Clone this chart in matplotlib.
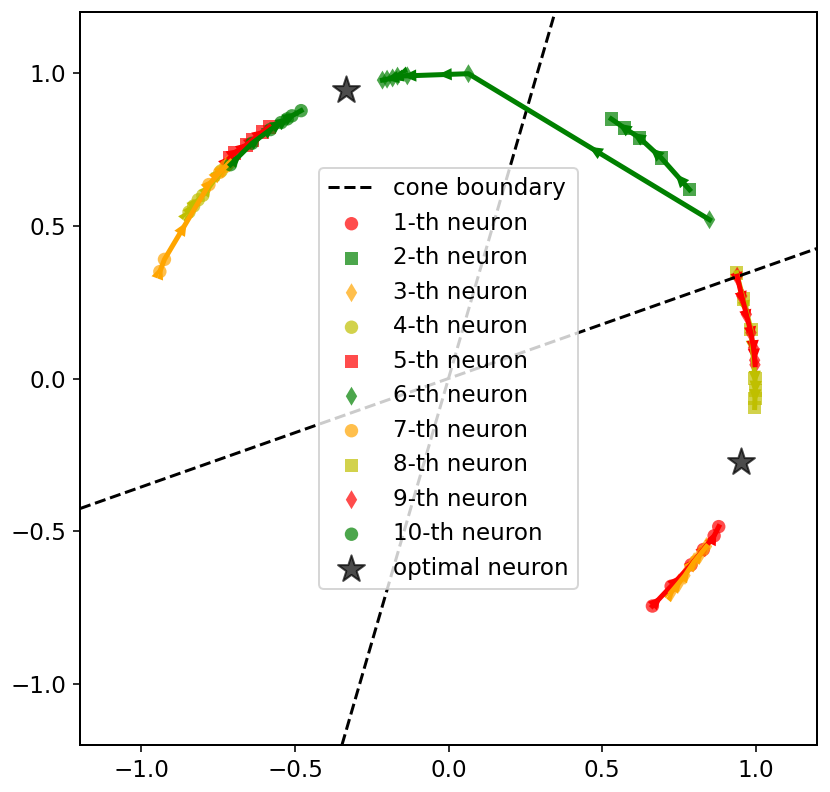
import numpy as np
import matplotlib.pyplot as plt

# trajectories of the 10 neurons (start -> end)
n1_x = [0.664, 0.725, 0.79, 0.83, 0.865, 0.88]
n1_y = [-0.745, -0.68, -0.61, -0.56, -0.515, -0.485]
n2_x = [0.785, 0.693, 0.622, 0.573, 0.53]
n2_y = [0.618, 0.722, 0.788, 0.82, 0.85]
n3_x = [0.725, 0.75, 0.77, 0.80, 0.82, 0.84]
n3_y = [-0.70, -0.67, -0.645, -0.60, -0.575, -0.55]
n4_x = [-0.845, -0.83, -0.815, -0.80, -0.74, -0.72]
n4_y = [0.545, 0.565, 0.585, 0.60, 0.68, 0.70]
n5_x = [-0.713, -0.697, -0.658, -0.638, -0.606, -0.583]
n5_y = [0.722, 0.739, 0.765, 0.781, 0.807, 0.824]
n6_x = [0.85, 0.065, -0.134, -0.166, -0.182, -0.2, -0.215]
n6_y = [0.52, 0.998, 0.991, 0.99, 0.984, 0.98, 0.977]
n7_x = [-0.94, -0.925, -0.78, -0.745, -0.725, -0.71]
n7_y = [0.35, 0.39, 0.635, 0.675, 0.695, 0.71]
n8_x = [0.938, 0.96, 0.985, 0.998, 0.999, 0.998, 0.997]
n8_y = [0.346, 0.26, 0.16, 0.0, -0.04, -0.065, -0.095]
n9_x = [0.94, 0.955, 0.97, 0.985, 0.993, 0.997, 0.998]
n9_y = [0.335, 0.27, 0.21, 0.15, 0.10, 0.06, 0.045]
n10_x = [-0.71, -0.64, -0.58, -0.545, -0.525, -0.51, -0.48]
n10_y = [0.70, 0.77, 0.815, 0.838, 0.85, 0.86, 0.877]

opt_x = [-0.335, 0.951]
opt_y = [0.944, -0.275]

xs = [n1_x, n2_x, n3_x, n4_x, n5_x, n6_x, n7_x, n8_x, n9_x, n10_x]
ys = [n1_y, n2_y, n3_y, n4_y, n5_y, n6_y, n7_y, n8_y, n9_y, n10_y]
colors = ['r', 'g', 'orange', 'y']
markers = ['o', 's', 'd']

plt.rcParams['font.size'] = 11.5
fig = plt.figure(figsize=(830/144, 792/144), dpi=144)
ax = fig.add_axes([80/830, 47/792, 737/830, 733/792])

handles = []
# cone boundaries are perpendicular to the optimal neurons
for i in range(len(opt_x)):
	slope = -opt_x[i]/opt_y[i]
	h = ax.axline((0, 0), slope=slope, color='k', ls='--', lw=1.5)
	if i == 0:
		h.set_label("cone boundary")
		handles.append(h)

for k in range(len(xs)):
	c = colors[k % 4]
	m = markers[k % 3]
	x = np.array(xs[k]); y = np.array(ys[k])
	ax.plot(x, y, color=c, lw=2.5)
	for i in range(len(x)-1):
		dx = (x[i+1]-x[i])/2
		dy = (y[i+1]-y[i])/2
		ax.arrow(x[i], y[i], dx, dy, color=c, lw=0, length_includes_head=True,
			head_width=0.04, head_length=0.045)
	h = ax.scatter(x, y, color=c, marker=m, s=45, alpha=0.7, edgecolors='none',
		label="{}-th neuron".format(k+1))
	handles.append(h)

h = ax.scatter(opt_x, opt_y, color='k', marker='*', s=200, alpha=0.7, label="optimal neuron")
handles.append(h)

ax.set_xlim(-1.2, 1.2)
ax.set_ylim(-1.2, 1.2)
ax.set_xticks([-1.0, -0.5, 0.0, 0.5, 1.0])
ax.set_yticks([-1.0, -0.5, 0.0, 0.5, 1.0])
for s in ax.spines.values():
	s.set_linewidth(1.0)
ax.legend(handles=handles, loc='center', scatterpoints=1)
plt.savefig("out.png", dpi=144)
